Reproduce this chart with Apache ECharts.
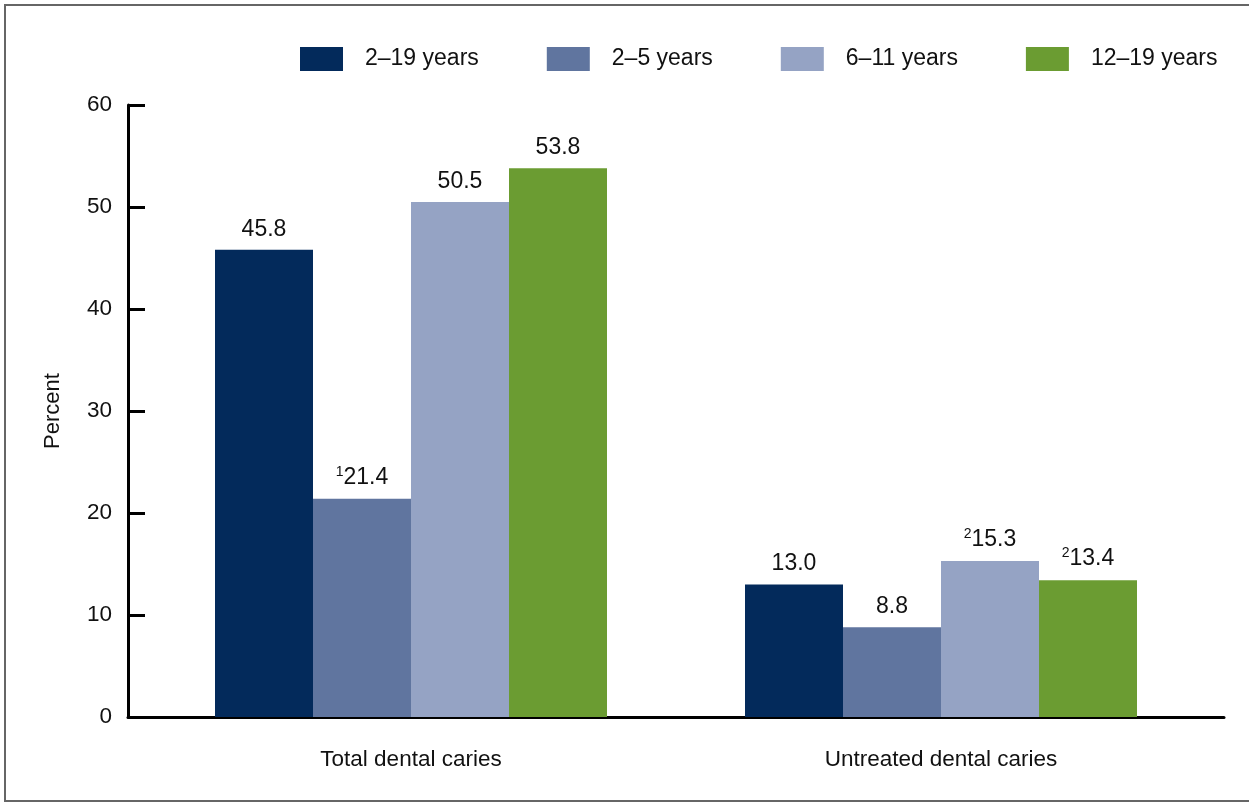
<!DOCTYPE html>
<html>
<head>
<meta charset="utf-8">
<script src="https://cdn.jsdelivr.net/npm/echarts@6/dist/echarts.min.js"></script>
<style>
html,body{margin:0;padding:0;background:#fff;}
#chart{width:1249px;height:803px;}
</style>
</head>
<body>
<div id="chart"></div>
<script>
const categories = ['Total dental caries', 'Untreated dental caries'];
const seriesNames = ['2–19 years', '2–5 years', '6–11 years', '12–19 years'];
const values_2_19 = [45.8, 13.0];
const values_2_5 = [21.4, 8.8];
const values_6_11 = [50.5, 15.3];
const values_12_19 = [53.8, 13.4];
const footnotes_2_19 = ['', ''];
const footnotes_2_5 = ['1', ''];
const footnotes_6_11 = ['', '2'];
const footnotes_12_19 = ['', '2'];
const yTicks = [0, 10, 20, 30, 40, 50, 60];

const colors = ['#032a5b', '#60759f', '#95a3c4', '#6b9c32'];
const allValues = [values_2_19, values_2_5, values_6_11, values_12_19];
const allNotes = [footnotes_2_19, footnotes_2_5, footnotes_6_11, footnotes_12_19];
const FONT = 'Liberation Sans, Arial, sans-serif';

const chart = echarts.init(document.getElementById('chart'));

const series = seriesNames.map((name, i) => ({
  name: name,
  type: 'bar',
  xAxisIndex: 1,
  yAxisIndex: 1,
  barWidth: 98,
  barGap: '0%',
  itemStyle: { color: colors[i] },
  data: allValues[i].map((v, j) => ({ value: v, note: allNotes[i][j] })),
  label: {
    show: true,
    position: 'top',
    distance: 9,
    fontFamily: FONT,
    fontSize: 23,
    color: '#111',
    formatter: function (p) {
      const n = p.data.note;
      const txt = p.value.toFixed(1);
      return n ? '{sup|' + n + '}{v|' + txt + '}' : '{v|' + txt + '}';
    },
    rich: {
      v: { fontFamily: FONT, fontSize: 23, color: '#111' },
      sup: { fontFamily: FONT, fontSize: 14, color: '#111', padding: [0, 0, 11, 0] }
    }
  }
}));

chart.setOption({
  animation: false,
  backgroundColor: '#fff',
  textStyle: { fontFamily: FONT },
  graphic: [{
    type: 'rect',
    shape: { x: 5, y: 5, width: 1260, height: 796 },
    style: { fill: 'none', stroke: '#666', lineWidth: 2 },
    silent: true,
    z: -1
  }],
  legend: {
    left: 295,
    top: 42,
    itemWidth: 43,
    itemHeight: 24,
    itemGap: 68,
    icon: 'rect',
    data: seriesNames,
    textStyle: { fontFamily: FONT, fontSize: 23, color: '#111', padding: [0, 0, 0, 17] }
  },
  grid: [
    { left: 128, right: 25, top: 105, bottom: 86 },
    { left: 146, right: 43, top: 105, bottom: 86 }
  ],
  xAxis: [
    {
      type: 'category', gridIndex: 0, data: categories,
      axisLine: { lineStyle: { color: '#000', width: 3 } },
      axisTick: { show: false }, axisLabel: { show: false }
    },
    {
      type: 'category', gridIndex: 1, data: categories,
      axisLine: { show: false }, axisTick: { show: false },
      axisLabel: { fontFamily: FONT, fontSize: 22.5, color: '#111', margin: 31 }
    }
  ],
  yAxis: [
    {
      type: 'value', gridIndex: 0, min: yTicks[0], max: yTicks[yTicks.length - 1], interval: 10,
      name: 'Percent', nameLocation: 'middle', nameGap: 64,
      nameTextStyle: { fontFamily: FONT, fontSize: 22, color: '#111' },
      axisLine: { show: true, lineStyle: { color: '#000', width: 3 } },
      axisTick: { show: true, inside: true, length: 17, lineStyle: { color: '#000', width: 3 } },
      axisLabel: { fontFamily: FONT, fontSize: 22.5, color: '#111', margin: 16 },
      splitLine: { show: false }
    },
    {
      type: 'value', gridIndex: 1, min: yTicks[0], max: yTicks[yTicks.length - 1], interval: 10,
      show: false, splitLine: { show: false }
    }
  ],
  series: series
});
</script>
</body>
</html>
